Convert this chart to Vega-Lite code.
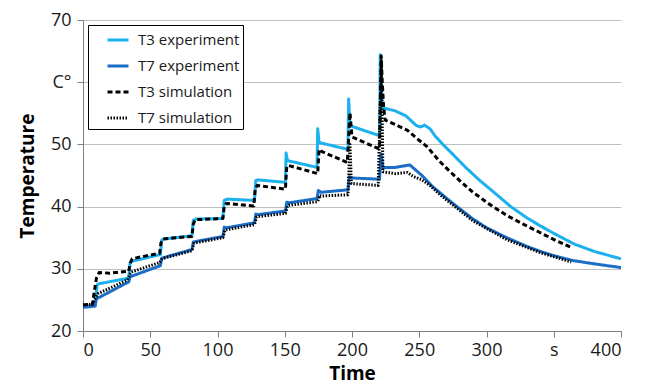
{
  "$schema": "https://vega.github.io/schema/vega-lite/v6.json",
  "width": 538,
  "height": 311,
  "autosize": "none",
  "padding": {"left": 83, "top": 20, "right": 25, "bottom": 55},
  "background": "white",
  "config": {
    "view": {"stroke": null},
    "font": "Open Sans",
    "axis": {
      "labelFont": "Open Sans",
      "labelFontSize": 18,
      "labelColor": "#1a1a1a",
      "titleFont": "Open Sans",
      "titleFontSize": 19,
      "titleFontWeight": "bold",
      "titleColor": "#000000",
      "domainColor": "#7f7f7f",
      "tickColor": "#7f7f7f",
      "tickSize": 6,
      "gridColor": "#bfbfbf",
      "gridWidth": 1
    },
    "legend": {
      "labelFont": "Open Sans",
      "labelFontSize": 15,
      "labelColor": "#1a1a1a"
    }
  },
  "data": {
    "values": [
      {"s": "T3 experiment", "t": 0, "v": 24.0},
      {"s": "T3 experiment", "t": 9, "v": 24.1},
      {"s": "T3 experiment", "t": 10.5, "v": 27.4},
      {"s": "T3 experiment", "t": 12, "v": 27.6},
      {"s": "T3 experiment", "t": 34, "v": 28.5},
      {"s": "T3 experiment", "t": 35, "v": 31.0},
      {"s": "T3 experiment", "t": 36, "v": 31.2},
      {"s": "T3 experiment", "t": 57.5, "v": 32.3},
      {"s": "T3 experiment", "t": 58.5, "v": 34.6},
      {"s": "T3 experiment", "t": 60, "v": 34.8},
      {"s": "T3 experiment", "t": 81, "v": 35.3},
      {"s": "T3 experiment", "t": 82, "v": 37.8},
      {"s": "T3 experiment", "t": 84, "v": 38.0},
      {"s": "T3 experiment", "t": 104, "v": 38.1},
      {"s": "T3 experiment", "t": 105, "v": 41.0},
      {"s": "T3 experiment", "t": 107, "v": 41.2},
      {"s": "T3 experiment", "t": 127.5, "v": 41.0},
      {"s": "T3 experiment", "t": 128.5, "v": 44.2},
      {"s": "T3 experiment", "t": 130, "v": 44.3},
      {"s": "T3 experiment", "t": 150.5, "v": 43.9},
      {"s": "T3 experiment", "t": 151, "v": 48.6},
      {"s": "T3 experiment", "t": 152, "v": 47.4},
      {"s": "T3 experiment", "t": 174, "v": 46.3},
      {"s": "T3 experiment", "t": 174.5, "v": 52.5},
      {"s": "T3 experiment", "t": 175.5, "v": 50.3},
      {"s": "T3 experiment", "t": 197, "v": 49.2},
      {"s": "T3 experiment", "t": 197.5, "v": 57.3},
      {"s": "T3 experiment", "t": 198.5, "v": 53.0},
      {"s": "T3 experiment", "t": 220.5, "v": 51.4},
      {"s": "T3 experiment", "t": 221, "v": 64.4},
      {"s": "T3 experiment", "t": 222.5, "v": 55.9},
      {"s": "T3 experiment", "t": 232, "v": 55.4},
      {"s": "T3 experiment", "t": 240, "v": 54.6},
      {"s": "T3 experiment", "t": 248, "v": 53.0},
      {"s": "T3 experiment", "t": 251, "v": 52.8},
      {"s": "T3 experiment", "t": 254, "v": 53.1},
      {"s": "T3 experiment", "t": 258, "v": 52.5},
      {"s": "T3 experiment", "t": 262, "v": 51.3},
      {"s": "T3 experiment", "t": 268, "v": 49.9},
      {"s": "T3 experiment", "t": 275, "v": 48.4},
      {"s": "T3 experiment", "t": 285, "v": 46.2},
      {"s": "T3 experiment", "t": 295, "v": 44.2},
      {"s": "T3 experiment", "t": 305, "v": 42.4},
      {"s": "T3 experiment", "t": 318, "v": 40.0},
      {"s": "T3 experiment", "t": 330, "v": 38.2},
      {"s": "T3 experiment", "t": 340, "v": 36.9},
      {"s": "T3 experiment", "t": 350, "v": 35.7},
      {"s": "T3 experiment", "t": 365, "v": 34.0},
      {"s": "T3 experiment", "t": 380, "v": 32.8},
      {"s": "T3 experiment", "t": 390, "v": 32.2},
      {"s": "T3 experiment", "t": 400, "v": 31.6},

      {"s": "T7 experiment", "t": 0, "v": 23.8},
      {"s": "T7 experiment", "t": 9, "v": 24.0},
      {"s": "T7 experiment", "t": 10, "v": 25.2},
      {"s": "T7 experiment", "t": 12, "v": 25.4},
      {"s": "T7 experiment", "t": 34, "v": 27.9},
      {"s": "T7 experiment", "t": 35, "v": 28.7},
      {"s": "T7 experiment", "t": 36, "v": 28.8},
      {"s": "T7 experiment", "t": 57.5, "v": 30.5},
      {"s": "T7 experiment", "t": 58.5, "v": 31.7},
      {"s": "T7 experiment", "t": 60, "v": 31.8},
      {"s": "T7 experiment", "t": 81, "v": 33.1},
      {"s": "T7 experiment", "t": 82, "v": 34.3},
      {"s": "T7 experiment", "t": 84, "v": 34.4},
      {"s": "T7 experiment", "t": 104, "v": 35.2},
      {"s": "T7 experiment", "t": 105, "v": 36.7},
      {"s": "T7 experiment", "t": 107, "v": 36.6},
      {"s": "T7 experiment", "t": 127.5, "v": 37.4},
      {"s": "T7 experiment", "t": 128.5, "v": 38.8},
      {"s": "T7 experiment", "t": 130, "v": 38.7},
      {"s": "T7 experiment", "t": 150.5, "v": 39.3},
      {"s": "T7 experiment", "t": 151.5, "v": 40.7},
      {"s": "T7 experiment", "t": 153, "v": 40.6},
      {"s": "T7 experiment", "t": 174, "v": 41.3},
      {"s": "T7 experiment", "t": 175, "v": 42.6},
      {"s": "T7 experiment", "t": 177, "v": 42.3},
      {"s": "T7 experiment", "t": 197, "v": 42.7},
      {"s": "T7 experiment", "t": 198, "v": 44.8},
      {"s": "T7 experiment", "t": 200, "v": 44.6},
      {"s": "T7 experiment", "t": 220.5, "v": 44.4},
      {"s": "T7 experiment", "t": 221.5, "v": 48.5},
      {"s": "T7 experiment", "t": 223, "v": 46.3},
      {"s": "T7 experiment", "t": 232, "v": 46.3},
      {"s": "T7 experiment", "t": 243, "v": 46.7},
      {"s": "T7 experiment", "t": 252, "v": 45.0},
      {"s": "T7 experiment", "t": 260, "v": 43.2},
      {"s": "T7 experiment", "t": 270, "v": 41.4},
      {"s": "T7 experiment", "t": 278, "v": 40.0},
      {"s": "T7 experiment", "t": 290, "v": 38.0},
      {"s": "T7 experiment", "t": 300, "v": 36.6},
      {"s": "T7 experiment", "t": 315, "v": 35.0},
      {"s": "T7 experiment", "t": 330, "v": 33.6},
      {"s": "T7 experiment", "t": 340, "v": 32.8},
      {"s": "T7 experiment", "t": 350, "v": 32.1},
      {"s": "T7 experiment", "t": 365, "v": 31.3},
      {"s": "T7 experiment", "t": 380, "v": 30.8},
      {"s": "T7 experiment", "t": 390, "v": 30.5},
      {"s": "T7 experiment", "t": 400, "v": 30.2},

      {"s": "T3 simulation", "t": 0, "v": 24.2},
      {"s": "T3 simulation", "t": 7, "v": 24.3},
      {"s": "T3 simulation", "t": 8.5, "v": 26.5},
      {"s": "T3 simulation", "t": 10, "v": 28.5},
      {"s": "T3 simulation", "t": 12, "v": 29.4},
      {"s": "T3 simulation", "t": 20, "v": 29.3},
      {"s": "T3 simulation", "t": 34, "v": 29.6},
      {"s": "T3 simulation", "t": 35, "v": 30.8},
      {"s": "T3 simulation", "t": 36.5, "v": 31.6},
      {"s": "T3 simulation", "t": 45, "v": 32.0},
      {"s": "T3 simulation", "t": 57, "v": 32.5},
      {"s": "T3 simulation", "t": 58, "v": 34.2},
      {"s": "T3 simulation", "t": 59.5, "v": 34.8},
      {"s": "T3 simulation", "t": 70, "v": 35.0},
      {"s": "T3 simulation", "t": 81, "v": 35.2},
      {"s": "T3 simulation", "t": 82, "v": 37.2},
      {"s": "T3 simulation", "t": 83.5, "v": 37.9},
      {"s": "T3 simulation", "t": 95, "v": 38.0},
      {"s": "T3 simulation", "t": 104, "v": 38.1},
      {"s": "T3 simulation", "t": 105, "v": 40.0},
      {"s": "T3 simulation", "t": 106.5, "v": 40.5},
      {"s": "T3 simulation", "t": 127, "v": 40.1},
      {"s": "T3 simulation", "t": 128, "v": 42.8},
      {"s": "T3 simulation", "t": 129.5, "v": 43.4},
      {"s": "T3 simulation", "t": 150.5, "v": 42.8},
      {"s": "T3 simulation", "t": 151.5, "v": 46.5},
      {"s": "T3 simulation", "t": 153, "v": 46.6},
      {"s": "T3 simulation", "t": 174.5, "v": 45.3},
      {"s": "T3 simulation", "t": 175.5, "v": 49.2},
      {"s": "T3 simulation", "t": 177, "v": 48.9},
      {"s": "T3 simulation", "t": 196.5, "v": 47.1},
      {"s": "T3 simulation", "t": 198.5, "v": 55.1},
      {"s": "T3 simulation", "t": 200, "v": 51.2},
      {"s": "T3 simulation", "t": 219, "v": 49.4},
      {"s": "T3 simulation", "t": 220.5, "v": 49.3},
      {"s": "T3 simulation", "t": 221.7, "v": 64.2},
      {"s": "T3 simulation", "t": 222.5, "v": 60.0},
      {"s": "T3 simulation", "t": 223.5, "v": 56.0},
      {"s": "T3 simulation", "t": 224.7, "v": 53.9},
      {"s": "T3 simulation", "t": 232, "v": 53.2},
      {"s": "T3 simulation", "t": 241, "v": 52.3},
      {"s": "T3 simulation", "t": 248, "v": 51.0},
      {"s": "T3 simulation", "t": 256, "v": 49.6},
      {"s": "T3 simulation", "t": 265, "v": 47.3},
      {"s": "T3 simulation", "t": 273, "v": 45.6},
      {"s": "T3 simulation", "t": 282, "v": 43.8},
      {"s": "T3 simulation", "t": 290, "v": 42.3},
      {"s": "T3 simulation", "t": 302, "v": 40.4},
      {"s": "T3 simulation", "t": 315, "v": 38.6},
      {"s": "T3 simulation", "t": 328, "v": 37.1},
      {"s": "T3 simulation", "t": 340, "v": 35.8},
      {"s": "T3 simulation", "t": 352, "v": 34.5},
      {"s": "T3 simulation", "t": 363.5, "v": 33.4},

      {"s": "T7 simulation", "t": 0, "v": 24.2},
      {"s": "T7 simulation", "t": 7, "v": 24.3},
      {"s": "T7 simulation", "t": 8.5, "v": 25.0},
      {"s": "T7 simulation", "t": 11, "v": 26.0},
      {"s": "T7 simulation", "t": 33, "v": 28.2},
      {"s": "T7 simulation", "t": 35, "v": 29.2},
      {"s": "T7 simulation", "t": 36, "v": 29.5},
      {"s": "T7 simulation", "t": 57, "v": 31.0},
      {"s": "T7 simulation", "t": 58.5, "v": 31.5},
      {"s": "T7 simulation", "t": 60, "v": 31.7},
      {"s": "T7 simulation", "t": 81, "v": 32.9},
      {"s": "T7 simulation", "t": 82.5, "v": 34.1},
      {"s": "T7 simulation", "t": 84, "v": 34.2},
      {"s": "T7 simulation", "t": 104, "v": 35.0},
      {"s": "T7 simulation", "t": 105.5, "v": 36.2},
      {"s": "T7 simulation", "t": 107, "v": 36.3},
      {"s": "T7 simulation", "t": 127.5, "v": 37.1},
      {"s": "T7 simulation", "t": 129, "v": 38.3},
      {"s": "T7 simulation", "t": 130, "v": 38.4},
      {"s": "T7 simulation", "t": 150.5, "v": 38.9},
      {"s": "T7 simulation", "t": 152, "v": 40.1},
      {"s": "T7 simulation", "t": 153, "v": 40.2},
      {"s": "T7 simulation", "t": 174.5, "v": 40.8},
      {"s": "T7 simulation", "t": 176, "v": 41.8},
      {"s": "T7 simulation", "t": 177, "v": 41.7},
      {"s": "T7 simulation", "t": 197, "v": 41.9},
      {"s": "T7 simulation", "t": 198.5, "v": 50.0},
      {"s": "T7 simulation", "t": 199.5, "v": 43.7},
      {"s": "T7 simulation", "t": 219.5, "v": 43.4},
      {"s": "T7 simulation", "t": 221.8, "v": 63.5},
      {"s": "T7 simulation", "t": 223, "v": 45.6},
      {"s": "T7 simulation", "t": 232, "v": 45.3},
      {"s": "T7 simulation", "t": 241, "v": 45.5},
      {"s": "T7 simulation", "t": 246, "v": 44.8},
      {"s": "T7 simulation", "t": 252, "v": 44.3},
      {"s": "T7 simulation", "t": 258, "v": 43.4},
      {"s": "T7 simulation", "t": 265, "v": 42.0},
      {"s": "T7 simulation", "t": 273, "v": 40.6},
      {"s": "T7 simulation", "t": 290, "v": 37.7},
      {"s": "T7 simulation", "t": 315, "v": 34.7},
      {"s": "T7 simulation", "t": 340, "v": 32.6},
      {"s": "T7 simulation", "t": 363, "v": 31.1}
    ]
  },
  "mark": {"type": "line", "strokeJoin": "round"},
  "encoding": {
    "x": {
      "field": "t",
      "type": "quantitative",
      "scale": {"domain": [0, 400], "nice": false},
      "axis": {
        "title": "Time",
        "values": [0, 50, 100, 150, 200, 250, 300, 350, 400],
        "labelExpr": "datum.value == 350 ? 's' : datum.label",
        "grid": false,
        "labelPadding": 4,
        "titlePadding": 5
      }
    },
    "y": {
      "field": "v",
      "type": "quantitative",
      "scale": {"domain": [20, 70], "nice": false, "zero": false},
      "axis": {
        "title": "Temperature",
        "values": [20, 30, 40, 50, 60, 70],
        "labelExpr": "datum.value == 60 ? 'C°' : datum.label",
        "labelPadding": 6,
        "titlePadding": 13
      }
    },
    "color": {
      "field": "s",
      "type": "nominal",
      "scale": {
        "domain": ["T3 experiment", "T7 experiment", "T3 simulation", "T7 simulation"],
        "range": ["#1CB0EE", "#1A6EC6", "#000000", "#000000"]
      },
      "legend": {
        "title": null,
        "orient": "top-left",
        "offset": 5,
        "strokeColor": "#000000",
        "fillColor": "#ffffff",
        "padding": 3,
        "symbolType": "stroke",
        "symbolSize": 441,
        "symbolStrokeWidth": 2,
        "symbolOffset": 15,
        "labelOffset": 8,
        "rowPadding": 6,
        "labelExpr": "datum.label + '\u00a0\u00a0\u00a0\u00a0'"
      }
    },
    "strokeDash": {
      "field": "s",
      "type": "nominal",
      "scale": {
        "domain": ["T3 experiment", "T7 experiment", "T3 simulation", "T7 simulation"],
        "range": [[1, 0], [1, 0], [5, 3], [1.5, 1.5]]
      }
    },
    "strokeWidth": {
      "field": "s",
      "type": "nominal",
      "scale": {
        "domain": ["T3 experiment", "T7 experiment", "T3 simulation", "T7 simulation"],
        "range": [3, 3, 1.8, 1.6]
      },
      "legend": null
    },
    "order": {"field": "t", "type": "quantitative"}
  }
}
